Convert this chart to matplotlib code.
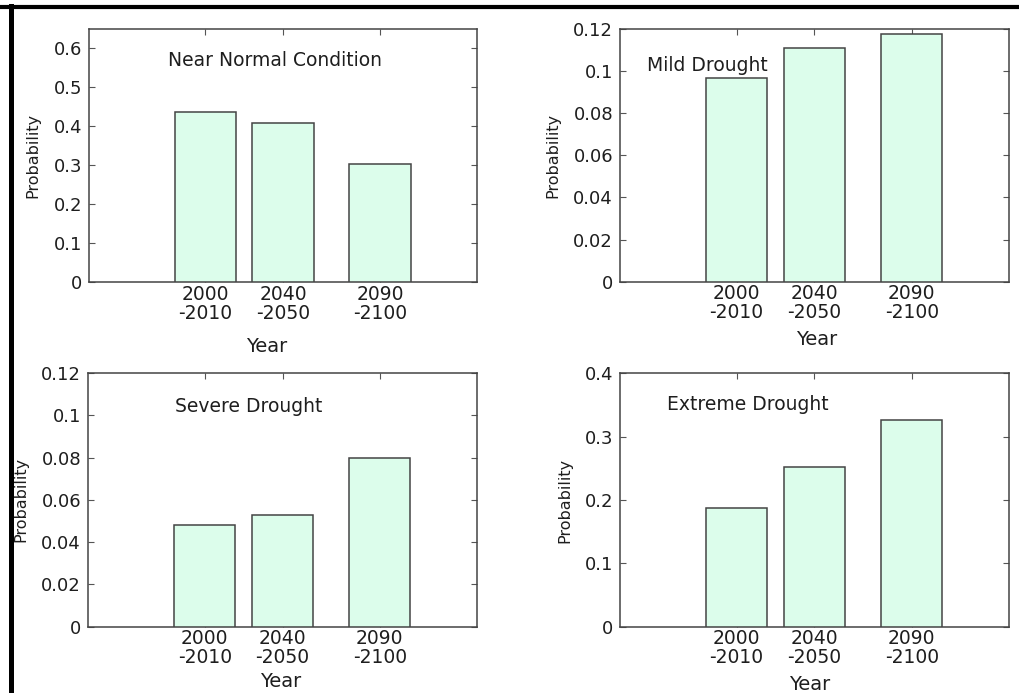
import matplotlib
matplotlib.use("Agg")
import matplotlib.pyplot as plt
from matplotlib.lines import Line2D

# bar centres on a year axis, labels are the decades
x = [2005, 2045, 2095]
labels = ["2000\n-2010", "2040\n-2050", "2090\n-2100"]

near_normal = [0.437, 0.409, 0.302]
mild = [0.0969, 0.111, 0.1175]
severe = [0.0479, 0.0526, 0.0798]
extreme = [0.188, 0.2516, 0.3265]

titles = ["Near Normal Condition", "Mild Drought", "Severe Drought", "Extreme Drought"]

fill = "#dcfdeb"
edge = "#444444"
txt = "#1e1e1e"

fig = plt.figure(figsize=(10.2, 6.93), dpi=100)

# axes boxes
boxes = [[0.0873, 0.5931, 0.3804, 0.3651],
         [0.6078, 0.5935, 0.3814, 0.3646],
         [0.0863, 0.0957, 0.3814, 0.3661],
         [0.6078, 0.0957, 0.3814, 0.3656]]
data = [near_normal, mild, severe, extreme]
ylims = [0.65, 0.12, 0.12, 0.4]
ysteps = [0.1, 0.02, 0.02, 0.1]
title_pos = [(0.204, 0.855), (0.069, 0.832), (0.224, 0.846), (0.122, 0.855)]
ylab_x = [-0.126, -0.154, -0.154, -0.123]
xlab_pos = [(0.459, -0.217), (0.506, -0.19), (0.494, -0.179), (0.488, -0.19)]

for i in range(4):
    ax = fig.add_axes(boxes[i])
    ax.bar(x, data[i], width=31.5, color=fill, edgecolor=edge, linewidth=1.1, zorder=3)
    ax.set_xlim(1945, 2145)
    ax.set_ylim(0, ylims[i])
    n = int(round(ylims[i] / ysteps[i]))
    ticks = [k * ysteps[i] for k in range(n + 1)]
    ax.set_yticks(ticks)
    ax.set_yticklabels(["%g" % t for t in ticks])
    ax.set_xticks(x)
    ax.set_xticklabels(labels, fontsize=13.5, linespacing=1.0)
    ax.tick_params(axis="y", labelsize=13, pad=5)
    ax.tick_params(axis="x", pad=2)
    ax.tick_params(direction="in", top=True, right=True, length=4, width=0.8,
                   color="#555555", labelcolor=txt)
    for s in ax.spines.values():
        s.set_color(edge)
        s.set_linewidth(1.1)
    ax.set_ylabel("Probability", fontsize=11.5, color=txt)
    ax.yaxis.set_label_coords(ylab_x[i], 0.5)
    ax.set_xlabel("Year", fontsize=14, va="top", color=txt)
    ax.xaxis.set_label_coords(xlab_pos[i][0], xlab_pos[i][1])
    ax.text(title_pos[i][0], title_pos[i][1], titles[i], transform=ax.transAxes,
            fontsize=13.5, va="baseline", ha="left", color=txt)

# black frame lines from the scanned page
fig.add_artist(Line2D([0.0, 1.0], [0.9899, 0.9899], transform=fig.transFigure,
                      color="black", linewidth=3.0))
fig.add_artist(Line2D([0.0103, 0.0103], [0.0, 0.992], transform=fig.transFigure,
                      color="black", linewidth=3.6))

fig.savefig("out.png", dpi=100)
